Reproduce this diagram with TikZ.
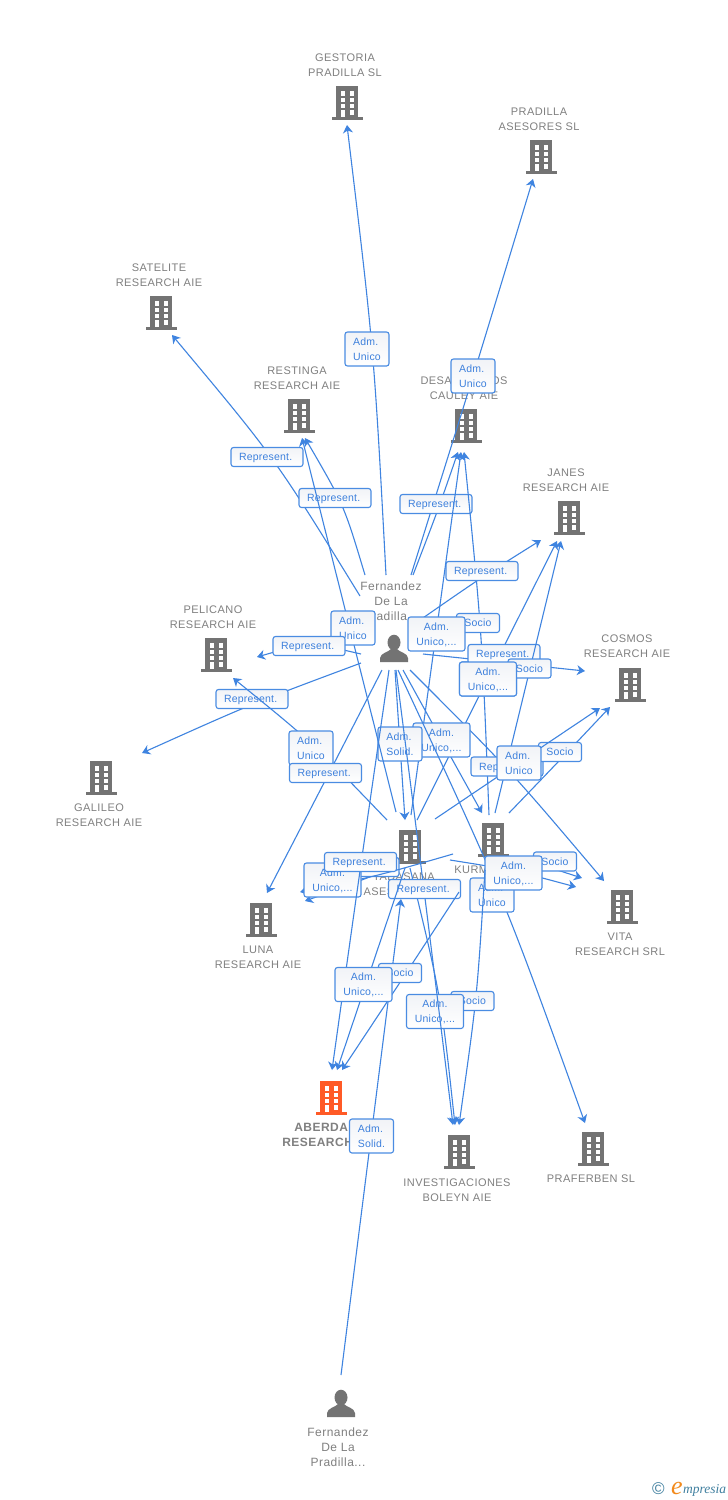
\documentclass[tikz,border=0pt]{standalone}
\usepackage{fontspec}
\setmainfont{Liberation Sans}
\newfontfamily\lf[LetterSpace=2]{Liberation Sans}
\newfontfamily\nf[LetterSpace=4]{Liberation Sans}
\newfontfamily\lserif{Liberation Serif}
\usetikzlibrary{arrows.meta}
\definecolor{eblue}{HTML}{3F84E0}
\definecolor{bblue}{HTML}{4A8CE2}
\definecolor{tblue}{HTML}{3D80DC}
\definecolor{igray}{HTML}{737373}
\definecolor{tgray}{HTML}{808080}
\definecolor{iorange}{HTML}{FF5A26}
\definecolor{lteal}{HTML}{3F7F9F}
\definecolor{lorange}{HTML}{F28A1C}
\definecolor{boxend}{HTML}{F1F3F7}
\tikzset{
  edge/.style={draw=eblue,line width=1.1pt,-{Stealth[length=8pt,width=10pt,inset=2.5pt]}},
  boxbase/.style={draw=bblue,line width=1.1pt,rounded corners=2.5pt,top color=boxend,bottom color=white,inner sep=0pt,text=tblue,text depth=0pt,font=\lf\fontsize{10.5}{15}\selectfont},
  rep/.style={boxbase,minimum width=72pt,minimum height=19pt,text width=56pt,align=left},
  soc/.style={boxbase,minimum width=43pt,minimum height=19pt,align=center},
  adm/.style={boxbase,minimum width=44pt,minimum height=34pt,align=left},
  admw/.style={boxbase,minimum width=57pt,minimum height=34pt,align=center},
  nlabel/.style={inner sep=0pt,align=center,text=tgray,yshift=-0.7pt,font=\nf\fontsize{11}{15}\selectfont},
  plabel/.style={inner sep=0pt,align=center,text=tgray,yshift=-0.7pt,font=\nf\fontsize{12}{15}\selectfont},
  olabel/.style={inner sep=0pt,align=center,text=tgray,yshift=-0.7pt,font=\nf\bfseries\fontsize{12}{15}\selectfont},
  anchorbox/.style={inner sep=0pt,minimum width=31pt,minimum height=34pt}
}
\newcommand\building[4]{%
  \node[anchorbox] (#1) at (#2,#3) {};
  \begin{scope}[shift={(#2,#3)}]
    \fill[#4] (-11,-17) rectangle (11,13.5);
    \fill[#4] (-15.5,13.5) rectangle (15.5,16.5);
    \fill[white] (-6.5,-12) rectangle (-2,-7.5);
    \fill[white] (2.5,-12) rectangle (7,-7.5);
    \fill[white] (-6.5,-5.5) rectangle (-2,-1);
    \fill[white] (2.5,-5.5) rectangle (7,-1);
    \fill[white] (-6.5,1) rectangle (-2,5);
    \fill[white] (2.5,1) rectangle (7,5);
    \fill[white] (-6.5,7) rectangle (-2,13.5);
    \fill[white] (2.5,7) rectangle (7,11.5);
  \end{scope}}
\newcommand\person[3]{%
  \node[anchorbox] (#1) at (#2,#3) {};
  \begin{scope}[shift={(#2,#3)}]
    \fill[igray] (0,-6.5) ellipse (6.5pt and 7.8pt);
    \fill[igray] (-14,13) -- (-14,9) .. controls (-13.5,4) and (-6,3.5) .. (-3,0) -- (3,0) .. controls (6,3.5) and (13.5,4) .. (14,9) -- (14,13) -- cycle;
  \end{scope}}
% id, start, control, tip, label position, label style, label text
\newcommand\conn[7]{%
  \coordinate (#1s) at (#2);
  \coordinate (#1t) at (#4);
  \draw[edge] (#1s) .. controls (#3) .. (#1t);
  \node[#6] (#1l) at (#5) {#7};}
\begin{document}
\begin{tikzpicture}[x=1pt,y=-1pt]
\useasboundingbox (0,0) rectangle (728,1500);
\fill[white] (0,0) rectangle (728,1500);
% companies
\building{gest}{347}{103}{igray}
\node[nlabel] (gestt) at (345,64.5) {GESTORIA\\PRADILLA SL};
\building{prad}{541}{157}{igray}
\node[nlabel] (pradt) at (539,118.5) {PRADILLA\\ASESORES SL};
\building{sate}{161}{313}{igray}
\node[nlabel] (satet) at (159,274.5) {SATELITE\\RESEARCH AIE};
\building{rest}{299}{416}{igray}
\node[nlabel] (restt) at (297,377.5) {RESTINGA\\RESEARCH AIE};
\building{desa}{466}{426}{igray}
\node[nlabel] (desat) at (464,387.5) {DESARROLLOS\\CAULEY AIE};
\building{jane}{569}{518}{igray}
\node[nlabel] (janet) at (566,479.5) {JANES\\RESEARCH AIE};
\building{peli}{216}{655}{igray}
\node[nlabel] (pelit) at (213,616.5) {PELICANO\\RESEARCH AIE};
\building{cosm}{630}{685}{igray}
\node[nlabel] (cosmt) at (627,645.5) {COSMOS\\RESEARCH AIE};
\building{gali}{101}{778}{igray}
\node[nlabel] (galit) at (99,814.5) {GALILEO\\RESEARCH AIE};
\building{luna}{261}{920}{igray}
\node[nlabel] (lunat) at (258,956.5) {LUNA\\RESEARCH AIE};
\building{vita}{622}{907}{igray}
\node[nlabel] (vitat) at (620,943.5) {VITA\\RESEARCH SRL};
\building{tada}{410}{847}{igray}
\node[nlabel] (tadat) at (404,883.5) {TADASANA\\ASESORES SL};
\building{kurm}{493}{840}{igray}
\node[nlabel] (kurmt) at (491,869) {KURMASANA};
\building{aber}{331}{1098}{iorange}
\node[olabel] (abert) at (330,1134.5) {ABERDARE\\RESEARCH AIE};
\building{inve}{459}{1152}{igray}
\node[nlabel] (invet) at (457,1189.5) {INVESTIGACIONES\\BOLEYN AIE};
\building{praf}{593}{1149}{igray}
\node[nlabel] (praft) at (591,1178) {PRAFERBEN SL};
% people
\person{pa}{394}{649}
\node[plabel] (pat) at (391,601) {Fernandez\\De La\\Pradilla...};
\person{pb}{341}{1404}
\node[plabel] (pbt) at (338,1446) {Fernandez\\De La\\Pradilla...};
% connectors and their labels, back to front
\conn{sat}{360,596}{275,458}{172,335}{267,457}{rep}{Represent.}
\conn{res}{365,575}{344,505}{305,438}{335,498}{rep}{Represent.}
\conn{ges}{386,575}{374,350}{347,125}{367,349}{adm}{Adm.\\Unico}
\conn{pra}{411,575}{473,377}{533,179}{473,376}{adm}{Adm.\\Unico}
\conn{des}{413,575}{438,510}{458,452}{436,504}{rep}{Represent.}
\conn{kde}{489,815}{482,633}{464,452}{478,623}{soc}{Socio}
\conn{tja}{417,820}{487,680}{557,541}{488,679}{admw}{Adm.\\Unico,...}
\conn{pco}{423,654}{504,662.5}{585,671}{504,654}{rep}{Represent.}
\conn{pja}{420,620}{482,577}{541,540}{482,571}{rep}{Represent.}
\conn{tde}{411,815}{436,634}{461,452}{436.5,634}{admw}{Adm.\\Unico,...}
\conn{kja}{495,813}{528,677}{561,541}{529.5,668.5}{soc}{Socio}
\node[admw] (tjal2) at (488,679) {Adm.\\Unico,...};
\conn{pvi}{410,670}{510,770}{604,881}{507,766.5}{rep}{Represent.}
\conn{kco}{509,813}{560,760}{610,707}{560,752}{soc}{Socio}
\conn{tco}{435,819}{518,763}{600,708}{519,763}{adm}{Adm.\\Unico}
\conn{pku}{403,670}{442,741}{482,813}{441.5,740}{admw}{Adm.\\Unico,...}
\conn{ptd}{395,670}{400,745}{405,820}{400,744}{adm}{Adm.\\Solid.}
\conn{tre}{396,812}{349,625}{302,438}{353,628}{adm}{Adm.\\Unico}
\conn{ppe}{361,654}{309,642}{257,657}{309,646}{rep}{Represent.}
\conn{pga}{361,663}{251,704}{142,753}{252,699}{rep}{Represent.}
\conn{tpe}{387,820}{313,743}{233,678}{311,748}{adm}{Adm.\\Unico}
\conn{plu}{382,670}{325,781}{267,893}{325.5,773}{rep}{Represent.}
\conn{kvi}{520,858}{551,868}{582,878}{555,861.5}{soc}{Socio}
\conn{ppr}{398,670}{503,895}{585,1123}{492,895}{adm}{Adm.\\Unico}
\conn{tvi}{450,860}{513,870}{576,887}{513.5,873}{admw}{Adm.\\Unico,...}
\conn{tlu}{397,866}{352,884}{305,901}{363,867}{rep}{Represent.}
\conn{klu}{453,854}{377,876}{300,892}{332.5,880}{admw}{Adm.\\Unico,...}
\conn{pab}{389,670}{360,870}{332,1070}{360.5,862}{rep}{Represent.}
\conn{pbt}{341,1375}{371,1137}{401,899}{371.5,1136}{adm}{Adm.\\Solid.}
\conn{kin}{485,870}{477,998}{459,1125}{472.5,1001}{soc}{Socio}
\conn{tin}{410,868}{441,996}{455,1125}{435,1011.5}{admw}{Adm.\\Unico,...}
\conn{pin}{396,670}{425,897}{453,1125}{424.5,889}{rep}{Represent.}
\conn{kab}{459,892}{401,981}{342,1070}{400,973}{soc}{Socio}
\conn{tab}{405,868}{371,969}{337,1070}{363.5,984.5}{admw}{Adm.\\Unico,...}
% logo
\node[inner sep=0pt,text=lteal,font=\fontsize{17}{17}\selectfont] (logoc) at (658.5,1489) {©};
\node[inner sep=0pt,text=lorange,font=\lserif\itshape\fontsize{26}{26}\selectfont,anchor=base west] (logoe) at (671,1494) {e};
\node[inner sep=0pt,text=lteal,font=\lserif\itshape\fontsize{13.5}{13.5}\selectfont,anchor=base west] (logot) at (683,1493) {mpresia};
\end{tikzpicture}
\end{document}
